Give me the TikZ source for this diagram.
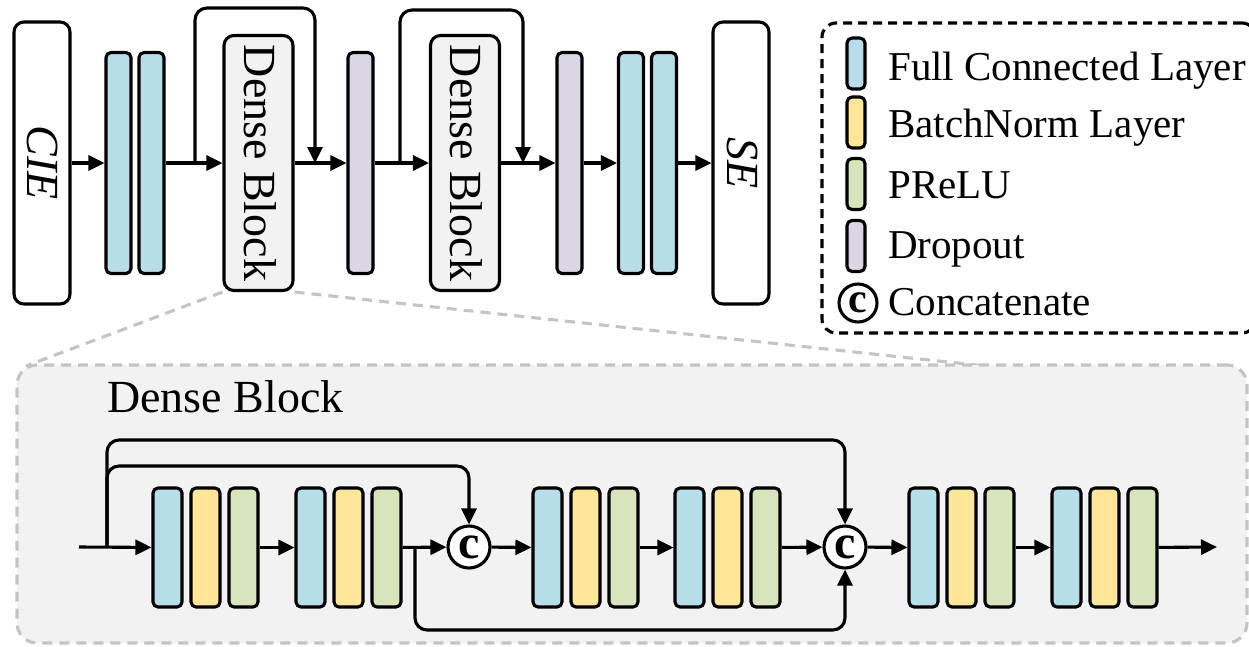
\documentclass[tikz,border=0pt]{standalone}
\usepackage{fontspec}
\setmainfont{Liberation Serif}
\usetikzlibrary{arrows.meta,calc}
\definecolor{fcc}{HTML}{B7DEE8}
\definecolor{bnc}{HTML}{FFE699}
\definecolor{prc}{HTML}{D8E4BC}
\definecolor{doc}{HTML}{DCD6E4}
\definecolor{panelfill}{HTML}{F2F2F2}
\definecolor{dashgray}{HTML}{C4C4C4}
\begin{document}
\begin{tikzpicture}[x=1pt,y=-1pt,line join=round,
  lw/.style={line width=3.1pt},
  arr/.style={lw,-{Triangle[length=16pt,width=15pt]}},
  topbar/.style={draw,lw,rounded corners=5pt,inner sep=0pt,minimum width=25pt,minimum height=221pt},
  fctop/.style={topbar,fill=fcc},
  dotop/.style={topbar,fill=doc},
  endbox/.style={draw,lw,fill=white,rounded corners=10pt,inner sep=0pt,minimum width=56pt,minimum height=282pt},
  dbbox/.style={draw,lw,fill=panelfill,rounded corners=10pt,inner sep=0pt,minimum width=69pt,minimum height=255pt},
  bigtxt/.style={font=\fontsize{46}{50}\selectfont,inner sep=0pt},
  lowbar/.style={draw,lw,rounded corners=5pt,inner sep=0pt,minimum width=29pt,minimum height=119pt},
  fcl/.style={lowbar,fill=fcc},
  bnl/.style={lowbar,fill=bnc},
  prl/.style={lowbar,fill=prc},
  concat/.style={draw,lw,fill=white,circle,inner sep=0pt,minimum size=42pt,font=\fontsize{48}{48}\selectfont\bfseries},
  legsw/.style={draw,lw,rounded corners=5pt,inner sep=0pt,minimum width=18pt,minimum height=51pt},
  legtxt/.style={anchor=base west,inner sep=0pt,font=\fontsize{41}{45}\selectfont},
  funnel/.style={draw=dashgray,lw,dash pattern=on 10pt off 7pt}
]
\useasboundingbox (0,0) rectangle (1249,646);
\clip (0,0) rectangle (1249,646);

% ---------- top row ----------
\node[endbox] (cie) at (42,163) {};
\node[bigtxt,rotate=-90,font=\fontsize{46}{50}\selectfont\itshape] (ciet) at (43,163) {CIE};
\node[fctop] (fc1) at (118.5,163) {};
\node[fctop] (fc2) at (151.5,163) {};
\node[dbbox] (db1) at (258.5,163) {};
\node[bigtxt,rotate=-90] (db1t) at (260,163) {Dense Block};
\node[dotop] (do1) at (360.5,163) {};
\node[dbbox] (db2) at (465,163) {};
\node[bigtxt,rotate=-90] (db2t) at (466.5,163) {Dense Block};
\node[dotop] (do2) at (569.5,163) {};
\node[fctop] (fc3) at (631,163) {};
\node[fctop] (fc4) at (664,163) {};
\node[endbox] (se) at (741,163) {};
\node[bigtxt,rotate=-90,font=\fontsize{46}{50}\selectfont\itshape] (set) at (742,163) {SE};

\draw[arr] (cie) -- (fc1);
\draw[arr] (fc2) -- (db1);
\draw[arr] (db1) -- (do1);
\draw[arr] (do1) -- (db2);
\draw[arr] (db2) -- (do2);
\draw[arr] (do2) -- (fc3);
\draw[arr] (fc4) -- (se);

\coordinate (s1) at (195,163);
\coordinate (t1) at (315,8);
\coordinate (e1) at (315,163);
\draw[arr,rounded corners=12pt] (s1) |- (t1) -- (e1);
\coordinate (s2) at (400,163);
\coordinate (t2) at (523,10);
\coordinate (e2) at (523,163);
\draw[arr,rounded corners=12pt] (s2) |- (t2) -- (e2);

% ---------- legend ----------
\node[draw,lw,dash pattern=on 9pt off 6pt,rounded corners=14pt,minimum width=434pt,minimum height=310pt,inner sep=0pt] (leg) at (1039,178) {};
\node[legsw,fill=fcc] (lfc) at (856,63.5) {};
\node[legsw,fill=bnc] (lbn) at (856,122.5) {};
\node[legsw,fill=prc] (lpr) at (856,184) {};
\node[legsw,fill=doc] (ldo) at (856,246) {};
\node[concat,minimum size=38pt,font=\fontsize{42}{42}\selectfont\bfseries] (lcc) at (858,303) {c};
\node[legtxt] (lt1) at (888,80) {Full Connected Layer};
\node[legtxt] (lt2) at (888,137) {BatchNorm Layer};
\node[legtxt] (lt3) at (888,198) {PReLU};
\node[legtxt] (lt4) at (888,258) {Dropout};
\node[legtxt] (lt5) at (888,315) {Concatenate};

% ---------- zoom lines and panel ----------
\coordinate (fl) at (26,366);
\coordinate (fr) at (985,366);
\draw[funnel] (db1.south west) -- (fl);
\draw[funnel] (db1.south east) -- (fr);
\node[funnel,fill=panelfill,rounded corners=20pt,minimum width=1230pt,minimum height=278pt,inner sep=0pt] (panel) at (632,504) {};
\node[anchor=base west,inner sep=0pt,font=\fontsize{46}{50}\selectfont] (ptitle) at (107,412) {Dense Block};

% ---------- dense block detail ----------
\node[fcl] (a1) at (167.5,547.5) {};
\node[bnl] (a2) at (205.5,547.5) {};
\node[prl] (a3) at (243.5,547.5) {};
\node[fcl] (b1) at (310.5,547.5) {};
\node[bnl] (b2) at (348.5,547.5) {};
\node[prl] (b3) at (386.5,547.5) {};
\node[concat] (c1) at (469,547) {c};
\node[fcl] (d1) at (547.5,547.5) {};
\node[bnl] (d2) at (585.5,547.5) {};
\node[prl] (d3) at (623.5,547.5) {};
\node[fcl] (f1) at (689.5,547.5) {};
\node[bnl] (f2) at (727.5,547.5) {};
\node[prl] (f3) at (765.5,547.5) {};
\node[concat] (c2) at (845,547) {c};
\node[fcl] (g1) at (923.5,547.5) {};
\node[bnl] (g2) at (961.5,547.5) {};
\node[prl] (g3) at (999.5,547.5) {};
\node[fcl] (h1) at (1066.5,547.5) {};
\node[bnl] (h2) at (1104.5,547.5) {};
\node[prl] (h3) at (1142.5,547.5) {};

\coordinate (in) at (79,547);
\coordinate (bp) at (107,547);
\coordinate (out) at (1217,547);
\coordinate (ot) at (845,440);
\coordinate (it) at (469,466);
\coordinate (lb) at (415,547);
\coordinate (lt) at (845,630);

\draw[arr] (in) -- (a1);
\draw[arr] (a3) -- (b1);
\draw[arr] (b3) -- (c1);
\draw[arr] (c1) -- (d1);
\draw[arr] (d3) -- (f1);
\draw[arr] (f3) -- (c2);
\draw[arr] (c2) -- (g1);
\draw[arr] (g3) -- (h1);
\draw[arr] (h3) -- (out);

\draw[arr,rounded corners=12pt] (bp) |- (ot) -- (c2.north);
\draw[arr,rounded corners=12pt] (bp) |- (it) -- (c1.north);
\draw[arr,rounded corners=12pt] (lb) |- (lt) -- (c2.south);
\end{tikzpicture}
\end{document}
